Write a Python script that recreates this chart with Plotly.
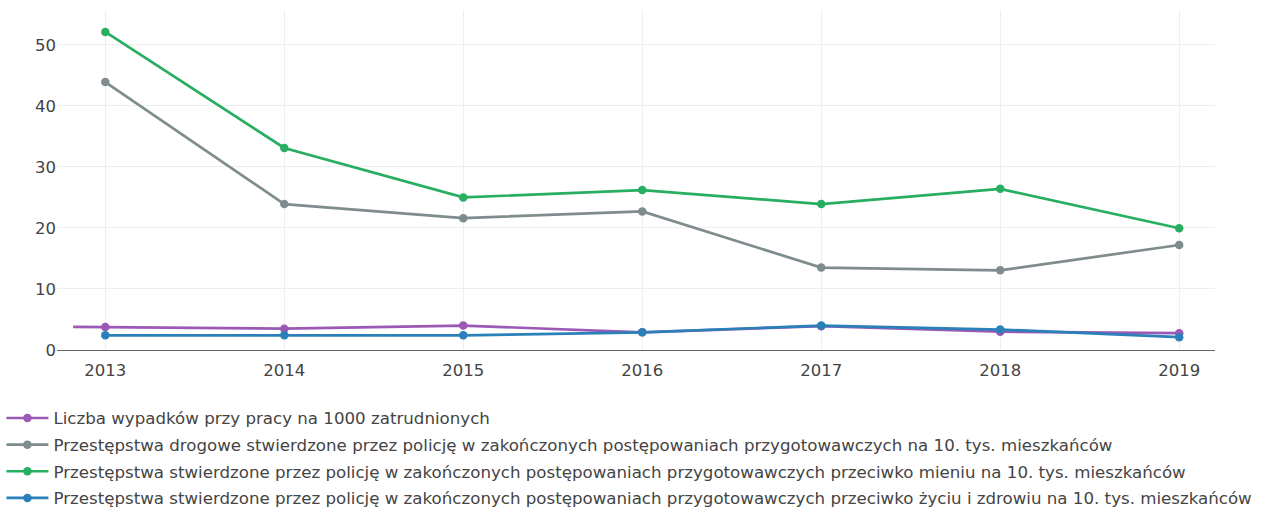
import plotly.graph_objects as go

years = [2013, 2014, 2015, 2016, 2017, 2018, 2019]
purple_vals = [3.75, 3.5, 4.0, 2.9, 3.9, 3.0, 2.75]
# short purple lead-in segment drawn before the 2013 point
purple_lead_x = [2012.82, 2013]
purple_lead_y = [3.8, 3.75]
gray_vals = [43.9, 23.9, 21.6, 22.7, 13.5, 13.05, 17.2]
green_vals = [52.1, 33.1, 25.0, 26.2, 23.9, 26.4, 19.95]
blue_vals = [2.4, 2.4, 2.4, 2.9, 4.0, 3.35, 2.1]

names = [
    "Liczba wypadków przy pracy na 1000 zatrudnionych",
    "Przestępstwa drogowe stwierdzone przez policję w zakończonych postępowaniach przygotowawczych na 10. tys. mieszkańców",
    "Przestępstwa stwierdzone przez policję w zakończonych postępowaniach przygotowawczych przeciwko mieniu na 10. tys. mieszkańców",
    "Przestępstwa stwierdzone przez policję w zakończonych postępowaniach przygotowawczych przeciwko życiu i zdrowiu na 10. tys. mieszkańców",
]
colors = ["#9b59b6", "#7f8c8d", "#27ae60", "#2a80b9"]
series = [purple_vals, gray_vals, green_vals, blue_vals]

fig = go.Figure()
fig.add_trace(go.Scatter(x=purple_lead_x, y=purple_lead_y, mode="lines", showlegend=False,
                         legendgroup="g0", hoverinfo="skip",
                         line=dict(color=colors[0], width=2.7)))
for i, (name, col, vals) in enumerate(zip(names, colors, series)):
    fig.add_trace(go.Scatter(x=years, y=vals, name=name, mode="lines+markers",
                             legendgroup=f"g{i}",
                             line=dict(color=col, width=2.7),
                             marker=dict(size=8.5, color=col)))

fig.update_layout(
    width=1267, height=510,
    margin=dict(l=57, r=52, t=10, b=160, autoexpand=False),
    paper_bgcolor="white", plot_bgcolor="white",
    font=dict(family="DejaVu Sans, Verdana, sans-serif", size=16.5, color="#444"),
    showlegend=True,
    legend=dict(orientation="v", x=-0.048, xanchor="left", y=-0.149, yanchor="top",
                font=dict(size=16.65, color="#444"), tracegroupgap=2, itemwidth=42),
    xaxis=dict(range=[2012.73, 2019.2], tickmode="array", tickvals=years,
               ticktext=[str(y) for y in years], showgrid=True, gridcolor="#eeeeee",
               showline=True, linecolor="#666", linewidth=1, zeroline=False,
               tickfont=dict(size=16.5), ticklabelstandoff=5),
    yaxis=dict(range=[0, 55.7], tickvals=[0, 10, 20, 30, 40, 50], showgrid=True,
               gridcolor="#eeeeee", zeroline=False, tickfont=dict(size=16.5)),
)

fig.write_html("out.html", config={"displayModeBar": False},
               post_script="document.body.style.margin='0';")
